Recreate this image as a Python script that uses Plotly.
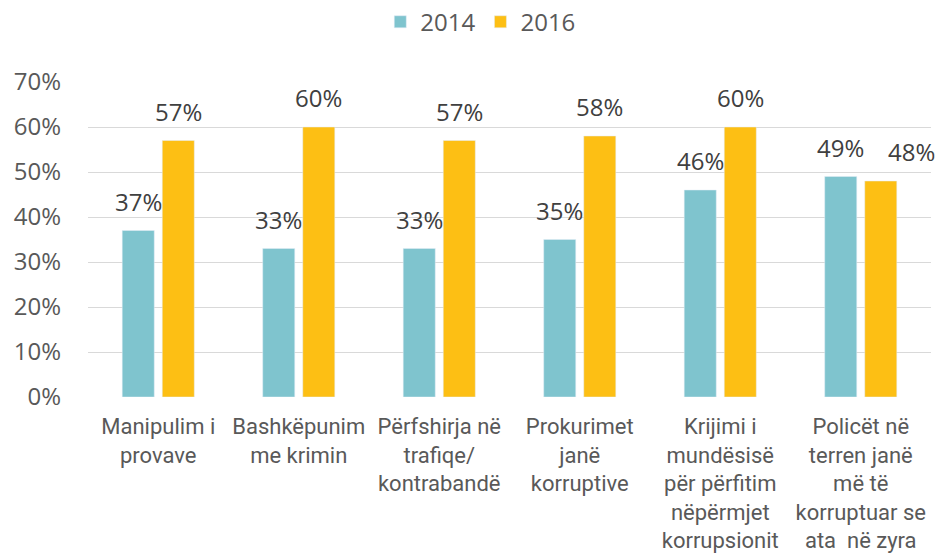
import plotly.graph_objects as go

categories = ["Manipulim i<br>provave", "Bashkëpunim<br>me krimin", "Përfshirja në<br>trafiqe/<br>kontrabandë",
              "Prokurimet<br>janë<br>korruptive", "Krijimi i<br>mundësisë<br>për përfitim<br>nëpërmjet<br>korrupsionit",
              "Policët në<br>terren janë<br>më të<br>korruptuar se<br>ata  në zyra"]
keys = list(range(len(categories)))
v2014 = [37, 33, 33, 35, 46, 49]
v2016 = [57, 60, 57, 58, 60, 48]
tick_vals = [0, 10, 20, 30, 40, 50, 60, 70]
tick_text = [f"{v}%" for v in tick_vals]

FONT = "Open Sans"
c14 = "#7FC4CE"
c16 = "#FDBF14"

fig = go.Figure()
fig.add_trace(go.Bar(x=keys, y=v2014, name="2014", marker_color=c14))
fig.add_trace(go.Bar(x=keys, y=v2016, name="2016", marker_color=c16))

for k, a, b in zip(keys, v2014, v2016):
    extra = 31 if abs(a - b) < 5 else 0  # avoid overlapping labels
    fig.add_annotation(x=k, y=a, text=f"{a}%", showarrow=False, xshift=-20, yshift=11,
                       yanchor="bottom", font=dict(family=FONT, size=24, color="#404040"))
    fig.add_annotation(x=k, y=b, text=f"{b}%", showarrow=False, xshift=20 + extra, yshift=11,
                       yanchor="bottom", font=dict(family=FONT, size=24, color="#404040"))

fig.update_layout(
    width=939, height=554,
    margin=dict(l=88, r=8, t=82, b=157, autoexpand=False),
    paper_bgcolor="white", plot_bgcolor="white",
    barmode="group", bargap=0.43, bargroupgap=0.2,
    font=dict(family=FONT, color="#595959"),
    legend=dict(orientation="h", x=0.512, xref="container", xanchor="center",
                y=0.960, yref="container", yanchor="middle",
                font=dict(family=FONT, size=24, color="#595959"), itemwidth=30),
    xaxis=dict(tickmode="array", tickvals=keys, ticktext=categories, range=[-0.5, 5.5],
               tickfont=dict(family="Roboto", size=22, color="#595959"), showgrid=False, ticks="",
               showline=False, zeroline=False, automargin=False, ticklabelstandoff=14),
    yaxis=dict(range=[0, 70], tickvals=tick_vals, ticktext=tick_text,
               tickfont=dict(family=FONT, size=24, color="#595959"), showgrid=True,
               gridcolor="#D9D9D9", gridwidth=1, zeroline=False, ticks="", ticklabelstandoff=26,
               automargin=False),
)
fig.write_html("out.html", config={"displayModeBar": False},
               post_script="document.body.style.margin='0';document.body.style.overflow='hidden';")
